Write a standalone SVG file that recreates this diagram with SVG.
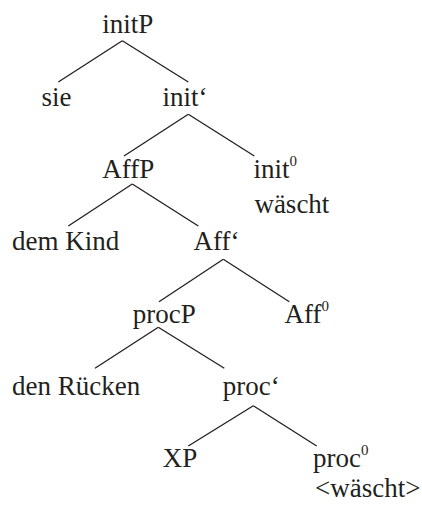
<svg xmlns="http://www.w3.org/2000/svg" width="422" height="505" viewBox="0 0 422 505">
<rect width="422" height="505" fill="#fff"/>
<g id="connectors" stroke="#231f20" stroke-width="1.3">
<line x1="122.3" y1="40.7" x2="58.3" y2="82"/>
<line x1="122.3" y1="40.7" x2="188.3" y2="82"/>
<line x1="188.3" y1="114.3" x2="124" y2="156"/>
<line x1="188.3" y1="114.3" x2="254.3" y2="156"/>
<line x1="132.3" y1="184" x2="68.3" y2="226"/>
<line x1="132.3" y1="184" x2="198.3" y2="226"/>
<line x1="223.3" y1="259.3" x2="159" y2="301.7"/>
<line x1="223.3" y1="259.3" x2="289.3" y2="301.7"/>
<line x1="158.3" y1="327.3" x2="95" y2="368.3"/>
<line x1="158.3" y1="327.3" x2="224.3" y2="368.3"/>
<line x1="253.3" y1="405.7" x2="188.3" y2="446"/>
<line x1="253.3" y1="405.7" x2="316.7" y2="446"/>
</g>
<g font-family="Liberation Serif" font-size="27" fill="#231f20">
<g id="initP"><text x="102.3" y="33.3">initP</text></g>
<g id="sie"><text x="41.5" y="105.6">sie</text></g>
<g id="init-bar"><text x="162.6" y="105.6">init‘</text></g>
<g id="AffP"><text x="102.3" y="177.9">AffP</text></g>
<g id="init0"><text x="253.6" y="177.9">init<tspan font-size="15" dy="-11.7">0</tspan></text><text x="254.4" y="213.3">wäscht</text></g>
<g id="demKind"><text x="12" y="250.2">dem Kind</text></g>
<g id="Aff-bar"><text x="193.6" y="250.2">Aff‘</text></g>
<g id="procP"><text x="132.7" y="322.5">procP</text></g>
<g id="Aff0"><text x="284.6" y="322.5">Aff<tspan font-size="15" dy="-11.7">0</tspan></text></g>
<g id="denRuecken"><text x="12" y="394.8">den Rücken</text></g>
<g id="proc-bar"><text x="222.7" y="394.8">proc‘</text></g>
<g id="XP"><text x="162.7" y="467.1">XP</text></g>
<g id="proc0"><text x="313" y="467.1">proc<tspan font-size="15" dy="-11.7">0</tspan></text><text x="315" y="496.7">&lt;wäscht&gt;</text></g>
</g>
</svg>
